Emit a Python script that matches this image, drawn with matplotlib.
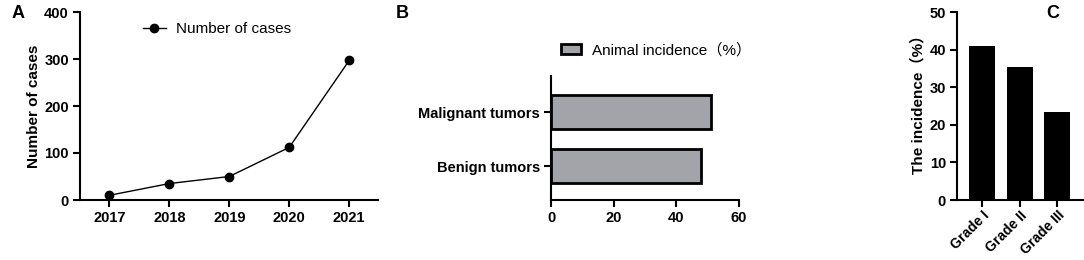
import matplotlib
matplotlib.use("Agg")
import matplotlib.pyplot as plt

plt.rcParams['font.family'] = ['Liberation Sans', 'Noto Sans CJK SC', 'DejaVu Sans']

# Panel A data
years = [2017, 2018, 2019, 2020, 2021]
cases = [10, 35, 50, 112, 297]

# Panel B data
tumor_types = ["Benign tumors", "Malignant tumors"]
animal_incidence = [48, 51]

# Panel C data
grades = ["Grade I", "Grade II", "Grade III"]
grade_incidence = [41, 35.3, 23.5]

W, H = 1084, 260
fig = plt.figure(figsize=(W / 100, H / 100), dpi=100)


def px_axes(left, right, bottom, top):
    return fig.add_axes([left / W, (H - bottom) / H, (right - left) / W, (bottom - top) / H])


def style(ax):
    for s in ["top", "right"]:
        ax.spines[s].set_visible(False)
    for s in ["left", "bottom"]:
        ax.spines[s].set_linewidth(1.5)
    ax.tick_params(width=1.5, length=5, labelsize=10.5, pad=3)
    for lab in ax.get_xticklabels() + ax.get_yticklabels():
        lab.set_fontweight("bold")


# A: line chart
axA = px_axes(80, 378, 200, 12)
axA.plot(years, cases, color="black", marker="o", markersize=6, linewidth=1, label="Number of cases")
axA.set_xlim(2016.51, 2021.48)
axA.set_ylim(0, 400)
axA.set_xticks(years)
axA.set_yticks([0, 100, 200, 300, 400])
axA.set_ylabel("Number of cases", fontsize=11, fontweight="bold")
axA.yaxis.set_label_coords(-0.13, 0.5)
style(axA)
axA.legend(loc="upper center", bbox_to_anchor=(0.46, 1.02), frameon=False, fontsize=11,
           handlelength=1.5, handletextpad=0.7)
fig.text(12 / W, 1 - 14 / H, "A", fontsize=13, fontweight="bold", va="center")

# B: horizontal bars
axB = px_axes(551, 739, 200, 76)
axB.barh(range(len(tumor_types)), animal_incidence, height=0.62, color="#a3a3aa",
         edgecolor="black", linewidth=2, label="Animal incidence（%）")
axB.set_xlim(0, 60)
axB.set_ylim(-0.63, 1.67)
axB.set_xticks([0, 20, 40, 60])
axB.set_yticks(range(len(tumor_types)))
axB.set_yticklabels(tumor_types)
style(axB)
axB.legend(loc="upper left", bbox_to_anchor=(-0.02, 1.38), frameon=False, fontsize=11,
           handlelength=1.3, handleheight=0.6, handletextpad=0.7)
fig.text(396 / W, 1 - 14 / H, "B", fontsize=13, fontweight="bold", va="center")

# C: vertical bars
axC = px_axes(957, 1083, 200, 12)
axC.bar(range(len(grades)), grade_incidence, width=0.69, color="black")
axC.set_xlim(-0.67, 2.69)
axC.set_ylim(0, 50)
axC.set_yticks([0, 10, 20, 30, 40, 50])
axC.set_xticks(range(len(grades)))
axC.set_xticklabels(grades, rotation=45, ha="right", rotation_mode="anchor")
axC.set_ylabel("The incidence（%）", fontsize=11, fontweight="bold")
axC.yaxis.set_label_coords(-0.25, 0.53)
style(axC)
axC.tick_params(axis="x", pad=1, labelsize=10)
fig.text(1046 / W, 1 - 14 / H, "C", fontsize=13, fontweight="bold", va="center")

fig.savefig("out.png", dpi=100)
